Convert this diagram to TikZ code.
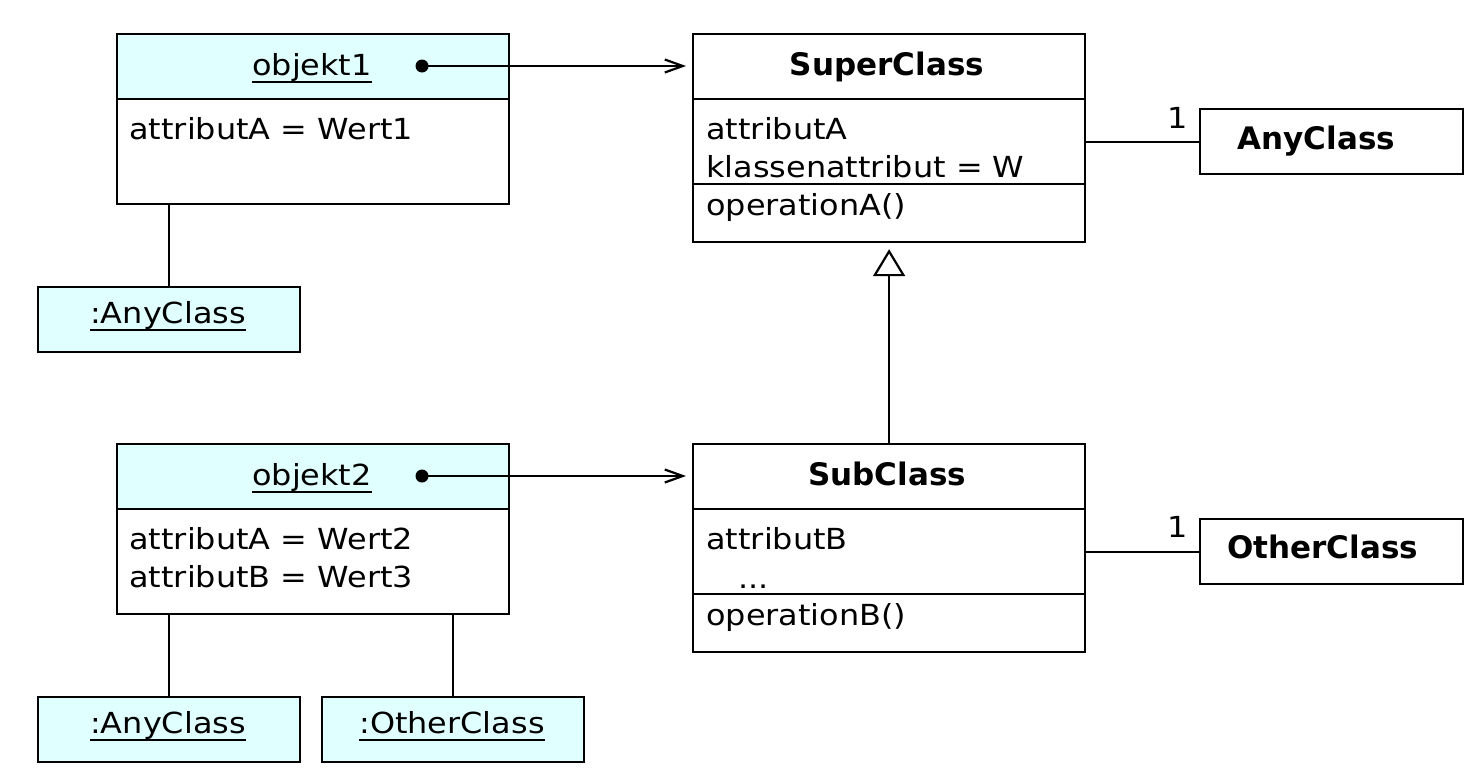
\documentclass[tikz,border=0pt]{standalone}
\usepackage{fontspec}
\setmainfont{DejaVu Sans}[FakeStretch=1.1]
\newfontfamily\clsfont{DejaVu Sans}
\usetikzlibrary{arrows.meta}
\definecolor{objfill}{RGB}{224,255,255}
\newlength\ulwidth
\newcommand\ulx[1]{\settowidth\ulwidth{#1}\rlap{\rule[-4pt]{\ulwidth}{0.95pt}}#1}
\begin{document}
\begin{tikzpicture}[x=0.5pt,y=-0.5pt,
  box/.style={draw, line width=1.1pt, inner sep=0pt, anchor=north west},
  txt/.style={inner sep=0pt, font=\fontsize{14.5}{17}\selectfont},
  cls/.style={inner sep=0pt, font=\clsfont\bfseries\fontsize{15.5}{18}\selectfont},
  conn/.style={line width=1.1pt},
  nav/.style={conn, -{Straight Barb[length=9pt 0, width=6.5pt 0]}, shorten >=3pt},
  gen/.style={conn, -{Triangle[open, length=13.5pt 0, width=16pt 0, fill=white]}, shorten >=3pt},
  sep/.style={line width=1.1pt},
  ]
\useasboundingbox (0,0) rectangle (1481,782);
% header fills
\fill[objfill] (116,33) rectangle (508,99);
\fill[objfill] (116,443) rectangle (508,509);
\fill[objfill] (37,286) rectangle (299,351);
\fill[objfill] (37,696) rectangle (299,761);
\fill[objfill] (321,696) rectangle (583,761);
% boxes
\node[box, minimum width=196pt, minimum height=85pt] (o1) at (116,33) {};
\node[box, minimum width=131pt, minimum height=32.5pt] (ao1) at (37,286) {};
\node[box, minimum width=196pt, minimum height=104pt] (sc) at (692,33) {};
\node[box, minimum width=131.5pt, minimum height=32.5pt] (ac) at (1199,108) {};
\node[box, minimum width=196pt, minimum height=85pt] (o2) at (116,443) {};
\node[box, minimum width=131pt, minimum height=32.5pt] (ao2) at (37,696) {};
\node[box, minimum width=131pt, minimum height=32.5pt] (oc2) at (321,696) {};
\node[box, minimum width=196pt, minimum height=104pt] (sub) at (692,443) {};
\node[box, minimum width=131.5pt, minimum height=32.5pt] (otc) at (1199,518) {};
% separators
\draw[sep] (o1.north west) ++(0,66) -- ++(392,0);
\draw[sep] (o2.north west) ++(0,66) -- ++(392,0);
\draw[sep] (sc.north west) ++(0,66) -- ++(392,0);
\draw[sep] (sc.north west) ++(0,151) -- ++(392,0);
\draw[sep] (sub.north west) ++(0,66) -- ++(392,0);
\draw[sep] (sub.north west) ++(0,151) -- ++(392,0);
% texts
\node[txt, anchor=base] (t1) at (312,75) {\ulx{objekt1}};
\node[txt, anchor=base west] (t2) at (129,139) {attributA = Wert1};
\node[txt, anchor=base] (t3) at (168,323) {\ulx{:AnyClass}};
\node[cls, anchor=base] (t4) at (887,75) {SuperClass};
\node[txt, anchor=base west] (t5) at (706,139) {attributA};
\node[txt, anchor=base west] (t6) at (706,177) {klassenattribut = W};
\node[txt, anchor=base west] (t7) at (706,215) {operationA()};
\node[cls, anchor=base west] (t8) at (1237,149) {AnyClass};
\node[txt, anchor=base] (m1) at (1178,128) {1};
\node[txt, anchor=base] (t9) at (312,485) {\ulx{objekt2}};
\node[txt, anchor=base west] (t10) at (129,549) {attributA = Wert2};
\node[txt, anchor=base west] (t11) at (129,587) {attributB = Wert3};
\node[txt, anchor=base] (t12) at (168,733) {\ulx{:AnyClass}};
\node[txt, anchor=base] (t13) at (452,733) {\ulx{:OtherClass}};
\node[cls, anchor=base] (t14) at (887,485) {SubClass};
\node[txt, anchor=base west] (t15) at (706,549) {attributB};
\node[txt, anchor=base west] (t16) at (738,588) {...};
\node[txt, anchor=base west] (t17) at (706,625) {operationB()};
\node[cls, anchor=base west] (t18) at (1227,558) {OtherClass};
\node[txt, anchor=base] (m2) at (1178,537) {1};
% connectors
\coordinate (d1) at (422,66);
\coordinate (d2) at (422,476);
\fill (d1) circle[radius=3.25pt];
\fill (d2) circle[radius=3.25pt];
\draw[nav] (d1) -- (d1 -| sc.west);
\draw[nav] (d2) -- (d2 -| sub.west);
\draw[conn] (sc.east |- ac.west) -- (ac.west);
\draw[conn] (sub.east |- otc.west) -- (otc.west);
\draw[gen] (sub.north) -- (sc.south);
\draw[conn] (ao1.north) -- (ao1.north |- o1.south);
\draw[conn] (ao2.north) -- (ao2.north |- o2.south);
\draw[conn] (oc2.north) -- (oc2.north |- o2.south);
\end{tikzpicture}
\end{document}
